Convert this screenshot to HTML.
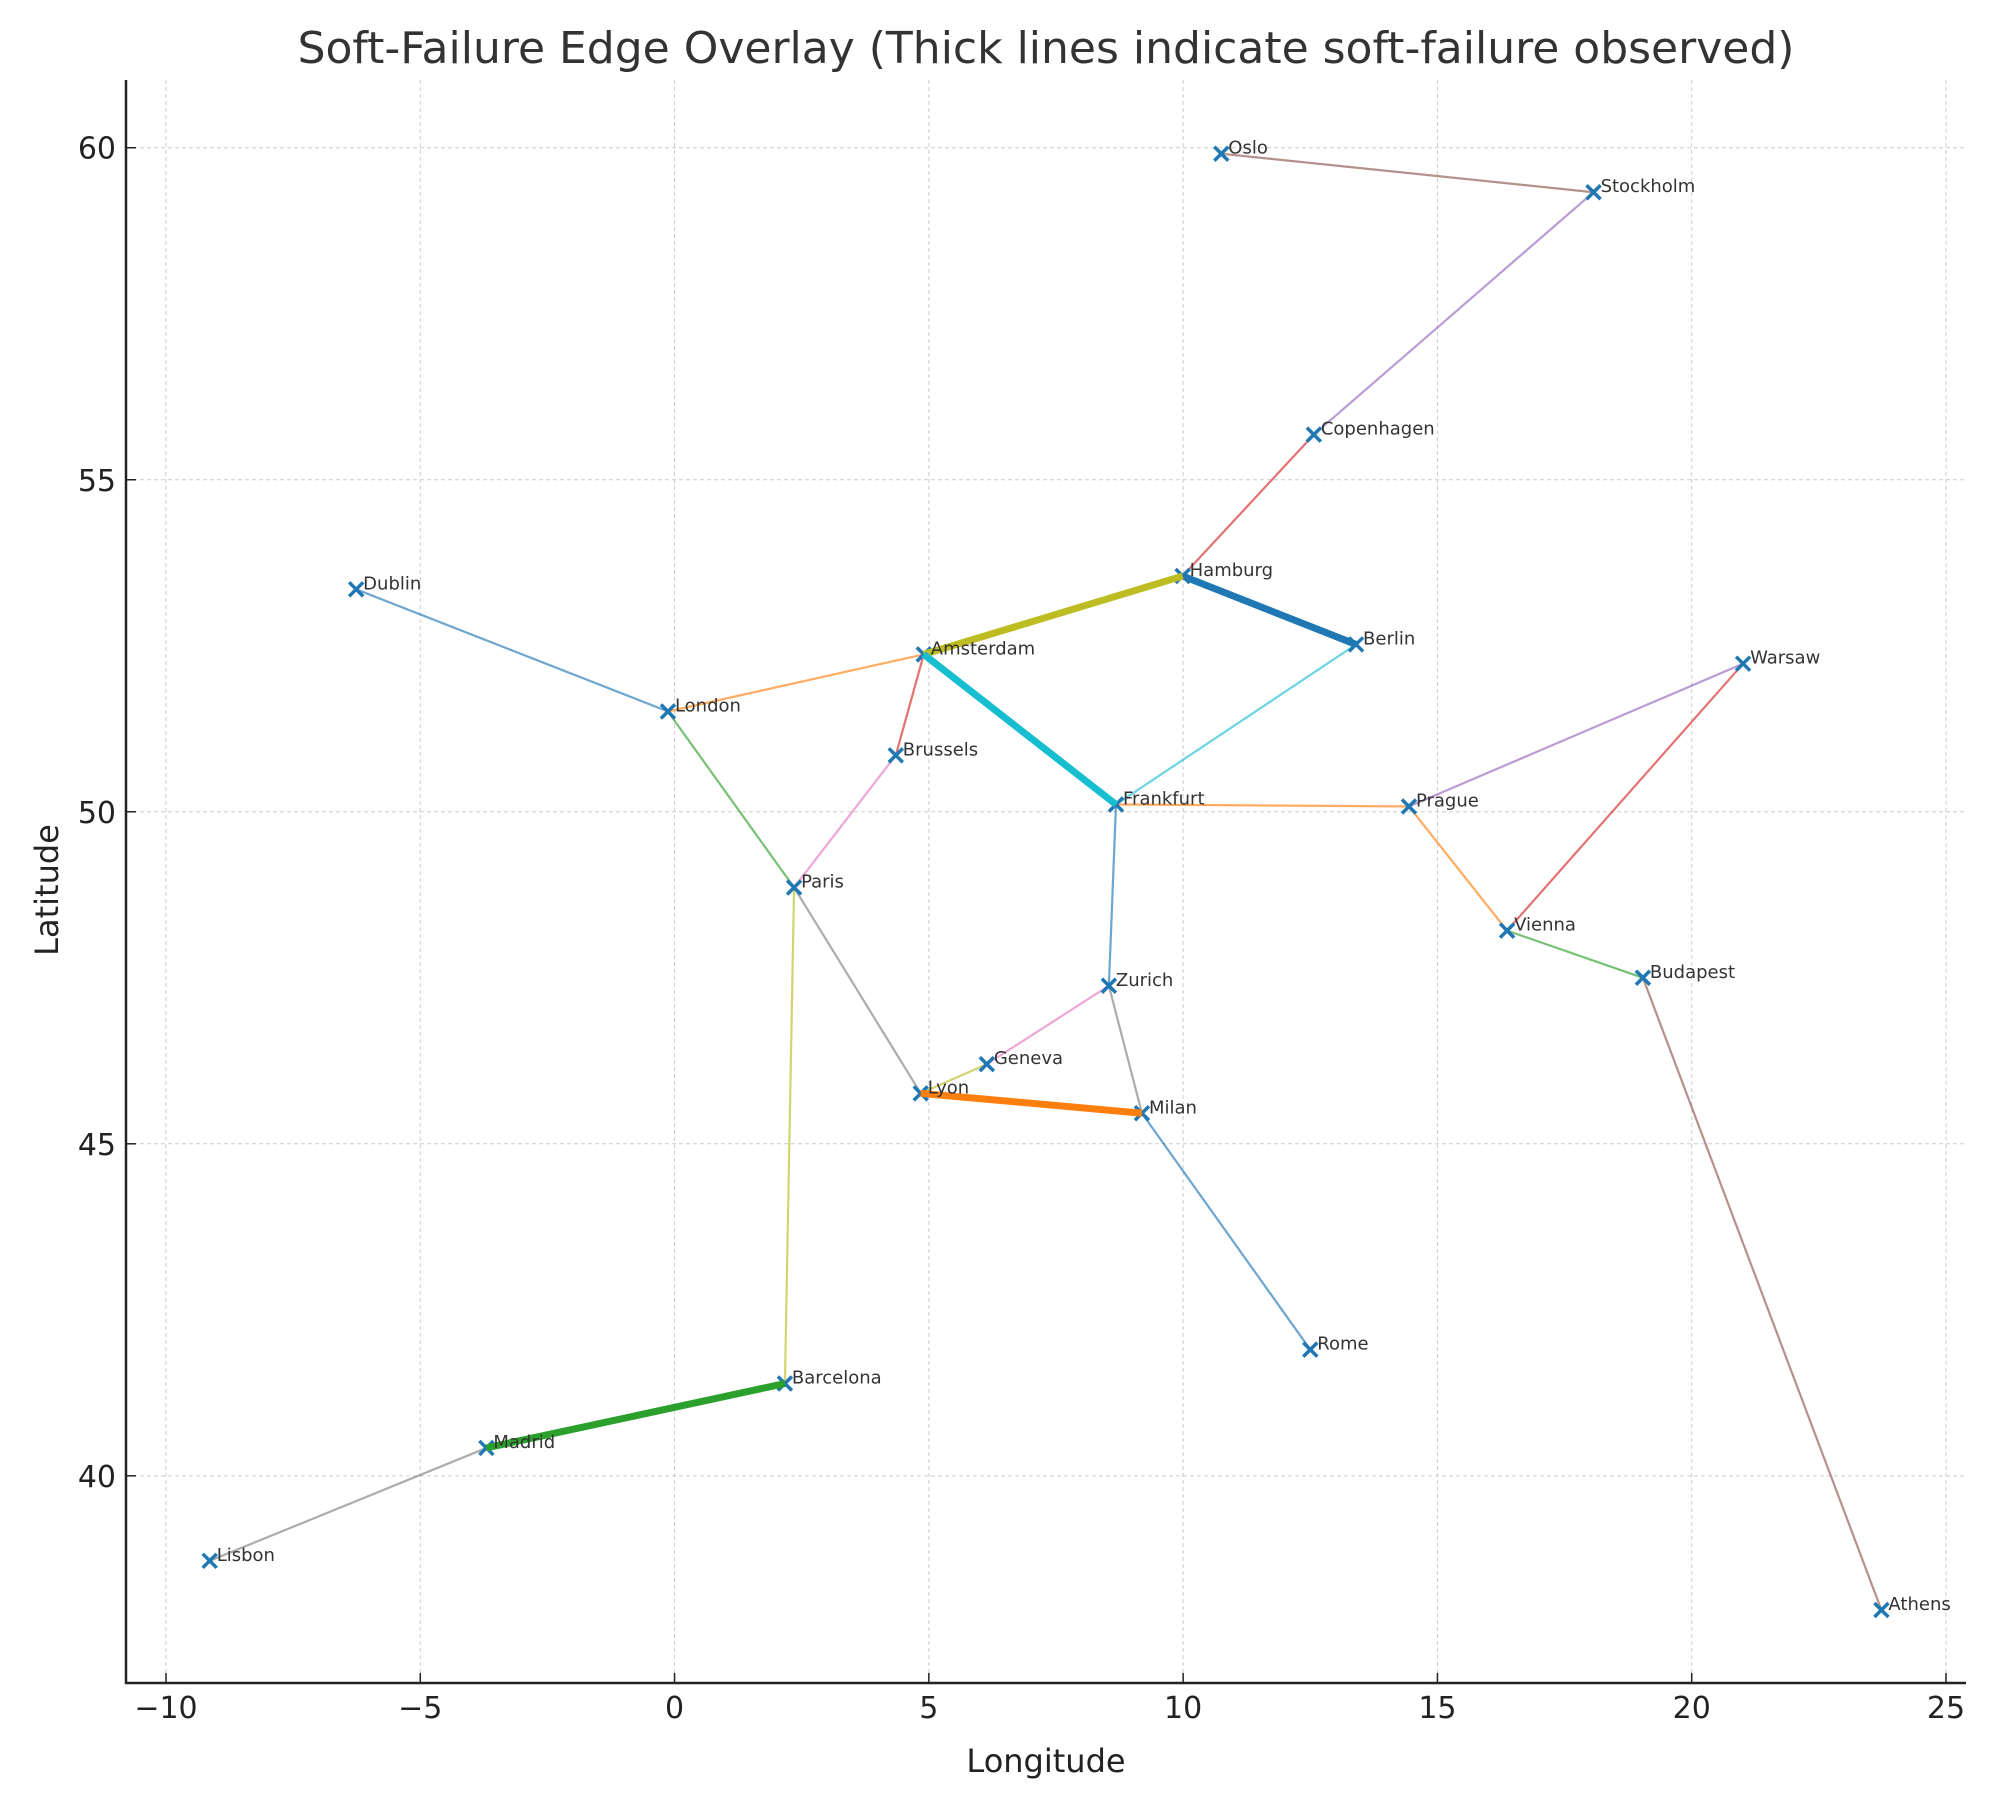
<!DOCTYPE html>
<html><head><meta charset="utf-8"><style>
body{margin:0;background:#fff}
svg{display:block;font-family:"DejaVu Sans","Liberation Sans",sans-serif}
</style></head><body>
<svg id="chart" width="2000" height="1800" viewBox="0 0 2000 1800" xmlns="http://www.w3.org/2000/svg">
<rect width="2000" height="1800" fill="#fff"/>
<text x="1046" y="63" text-anchor="middle" font-size="44" fill="#333">Soft-Failure Edge Overlay (Thick lines indicate soft-failure observed)</text>
<g id="grid"></g>
<g id="thin"></g>
<g id="markers"></g>
<g id="thick"></g>
<g id="labels"></g>
<g id="axes"></g>
<text x="1046" y="1772" text-anchor="middle" font-size="32" fill="#222">Longitude</text>
<text transform="translate(58,890) rotate(-90)" text-anchor="middle" font-size="32" fill="#222">Latitude</text>
</svg>
<script>
const cityNames=["Oslo","Stockholm","Copenhagen","Hamburg","Berlin","Amsterdam","Dublin","London","Brussels","Frankfurt","Prague","Warsaw","Paris","Vienna","Budapest","Zurich","Geneva","Lyon","Milan","Rome","Barcelona","Madrid","Lisbon","Athens"];
const cityLon=[10.75,18.07,12.57,9.99,13.40,4.90,-6.26,-0.13,4.35,8.68,14.44,21.01,2.35,16.37,19.04,8.54,6.14,4.84,9.19,12.50,2.17,-3.70,-9.14,23.73];
const cityLat=[59.91,59.33,55.68,53.55,52.52,52.37,53.35,51.51,50.85,50.11,50.08,52.23,48.86,48.21,47.50,47.38,46.20,45.76,45.46,41.90,41.39,40.42,38.72,37.98];
const edgeFrom=["Oslo","Stockholm","Copenhagen","Hamburg","Amsterdam","Berlin","Amsterdam","London","Dublin","Amsterdam","Brussels","London","Paris","Paris","Frankfurt","Prague","Warsaw","Prague","Vienna","Budapest","Frankfurt","Zurich","Geneva","Zurich","Lyon","Milan","Barcelona","Madrid"];
const edgeTo=["Stockholm","Copenhagen","Hamburg","Berlin","Hamburg","Frankfurt","Frankfurt","Amsterdam","London","Brussels","Paris","Paris","Lyon","Barcelona","Prague","Warsaw","Vienna","Vienna","Budapest","Athens","Zurich","Geneva","Lyon","Milan","Milan","Rome","Madrid","Lisbon"];
const edgeSoft=[0,0,0,1,1,0,1,0,0,0,0,0,0,0,0,0,0,0,0,0,0,0,0,0,1,0,1,0];
const edgeColor=["#8c564b","#9467bd","#d62728","#1f77b4","#bcbd22","#17becf","#17becf","#ff7f0e","#1f77b4","#d62728","#e377c2","#2ca02c","#7f7f7f","#bcbd22","#ff7f0e","#9467bd","#d62728","#ff7f0e","#2ca02c","#8c564b","#1f77b4","#e377c2","#bcbd22","#7f7f7f","#ff7f0e","#1f77b4","#2ca02c","#7f7f7f"];
const xTicks=[-10,-5,0,5,10,15,20,25];
const yTicks=[40,45,50,55,60];

const L=126,R=1966,T=80,B=1683,x0=-10.786,x1=25.393,y0=36.88,y1=61.02;
const sx=v=>L+(v-x0)/(x1-x0)*(R-L);
const sy=v=>B-(v-y0)/(y1-y0)*(B-T);
const NS="http://www.w3.org/2000/svg";
function mk(tag,attrs,parent){const e=document.createElementNS(NS,tag);for(const k in attrs)e.setAttribute(k,attrs[k]);document.getElementById(parent).appendChild(e);return e;}

xTicks.forEach(t=>{
  const g=mk('line',{x1:sx(t),x2:sx(t),y1:T,y2:B,stroke:'#ccc','stroke-width':1,'stroke-dasharray':'4,3'},'grid');
  
  
  const tk=mk('line',{x1:sx(t),x2:sx(t),y1:B,y2:B-10,stroke:'#222','stroke-width':1.5},'axes');
  
  
  const tx=mk('text',{x:sx(t),y:B+35,'text-anchor':'middle','font-size':30,fill:'#222'},'axes');
  tx.textContent=(t<0?'\u2212'+(-t):t);
  
  
});
yTicks.forEach(t=>{
  const g=mk('line',{x1:L,x2:R,y1:sy(t),y2:sy(t),stroke:'#ccc','stroke-width':1,'stroke-dasharray':'4,3'},'grid');
  
  
  const tk=mk('line',{x1:L,x2:L+10,y1:sy(t),y2:sy(t),stroke:'#222','stroke-width':1.5},'axes');
  
  
  const tx=mk('text',{x:L-10,y:sy(t)+11,'text-anchor':'end','font-size':30,fill:'#222'},'axes');
  tx.textContent=t;
  
  
});
const ax1=mk('line',{x1:L,x2:L,y1:T,y2:B+1,stroke:'#222','stroke-width':2.5},'axes');


const ax2=mk('line',{x1:L-1,x2:R,y1:B,y2:B,stroke:'#222','stroke-width':2.5},'axes');



edgeFrom.forEach((f,i)=>{
  const a=cityNames.indexOf(f),b=cityNames.indexOf(edgeTo[i]);
  const soft=edgeSoft[i];
  const ln=mk('line',{x1:sx(cityLon[a]),y1:sy(cityLat[a]),x2:sx(cityLon[b]),y2:sy(cityLat[b]),stroke:edgeColor[i],'stroke-width':soft?7:2.2,'stroke-opacity':soft?1:0.65},soft?'thick':'thin');
  
  
});
cityNames.forEach((n,i)=>{
  const x=sx(cityLon[i]),y=sy(cityLat[i]),s=7;
  const m=mk('path',{d:`M${x-s},${y-s}L${x+s},${y+s}M${x-s},${y+s}L${x+s},${y-s}`,stroke:'#1f77b4','stroke-width':3.5},'markers');
  
  
  const t=mk('text',{x:x+7,y:y,'font-size':18,fill:'#333'},'labels');
  t.textContent=n;
  
  
});
</script>
</body></html>
